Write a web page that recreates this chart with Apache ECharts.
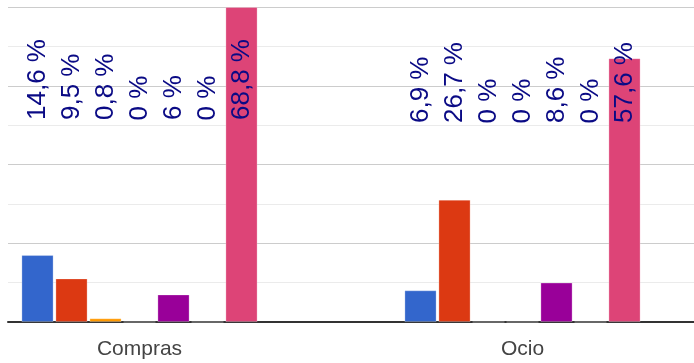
<!DOCTYPE html>
<html>
<head>
<meta charset="utf-8">
<style>
  html, body { margin: 0; padding: 0; background: #ffffff; overflow: hidden; }
  #wrap { width: 694px; height: 363px; overflow: hidden; position: relative; }
  /* canvas is wider than the page so the category bands can extend past both edges */
  #chart { width: 766px; height: 363px; position: absolute; left: -52px; top: 0; }
</style>
<script src="https://cdn.jsdelivr.net/npm/echarts@6/dist/echarts.min.js"></script>
</head>
<body>
<div id="wrap"><div id="chart"></div></div>
<script>
// Shares (%) per category
const categories = ['Compras', 'Ocio'];
const serie1 = [14.6, 6.9];
const serie2 = [9.5, 26.7];
const serie3 = [0.8, 0];
const serie4 = [0, 0];
const serie5 = [6, 8.6];
const serie6 = [0, 0];
const serie7 = [68.8, 57.6];

const seriesValues = [serie1, serie2, serie3, serie4, serie5, serie6, serie7];
const seriesNames = ['Serie 1', 'Serie 2', 'Serie 3', 'Serie 4', 'Serie 5', 'Serie 6', 'Serie 7'];
const colors = ['#3366cc', '#dc3912', '#ff9900', '#109618', '#990099', '#0099c6', '#dd4477'];

const yMax = 68.8;
const yStep = 17.2;
// distance of the rotated value labels above the baseline, per category
const labelLift = [197, 194];

const fmt = v => String(v).replace('.', ',') + ' %';

const chart = echarts.init(document.getElementById('chart'), null, { renderer: 'canvas' });

const series = seriesValues.map((vals, i) => ({
  name: seriesNames[i],
  type: 'bar',
  xAxisIndex: 1,
  yAxisIndex: 1,
  barWidth: 32,
  barGap: '6.25%',
  data: vals.map((v, c) => ({ value: v, label: { offset: [labelLift[c], 0] } })),
  itemStyle: { color: colors[i], borderColor: 'rgba(255,255,255,0.35)', borderWidth: 0.8 },
  label: {
    show: true,
    position: 'insideBottom',
    rotate: 90,
    align: 'left',
    verticalAlign: 'middle',
    color: '#0a0a85',
    fontFamily: 'Liberation Sans, Arial, sans-serif',
    fontSize: 26,
    formatter: p => fmt(p.value)
  },
  emphasis: { disabled: true }
}));

chart.setOption({
  animation: false,
  grid: [
    { left: 60, width: 706, top: 7, height: 315 },
    { left: 0, width: 766, top: 7, height: 315 }
  ],
  xAxis: [
    {
      gridIndex: 0, type: 'category', data: categories,
      axisLine: { show: true, lineStyle: { color: '#333333', width: 2 } },
      axisTick: { show: false }, axisLabel: { show: false }
    },
    {
      gridIndex: 1, type: 'category', data: categories,
      axisLine: { show: false }, axisTick: { show: false },
      axisLabel: {
        show: true, color: '#444444', fontSize: 21, margin: 17,
        fontFamily: 'Liberation Sans, Arial, sans-serif'
      }
    }
  ],
  yAxis: [
    {
      gridIndex: 0, type: 'value', min: 0, max: yMax, interval: yStep,
      axisLine: { show: false }, axisTick: { show: false }, axisLabel: { show: false },
      splitLine: { show: true, lineStyle: { color: '#cccccc', width: 1 } },
      minorTick: { show: false, splitNumber: 2 },
      minorSplitLine: { show: true, lineStyle: { color: '#ebebeb', width: 1 } }
    },
    {
      gridIndex: 1, type: 'value', min: 0, max: yMax, interval: yStep,
      axisLine: { show: false }, axisTick: { show: false }, axisLabel: { show: false },
      splitLine: { show: false }
    }
  ],
  series: series
});
</script>
</body>
</html>
